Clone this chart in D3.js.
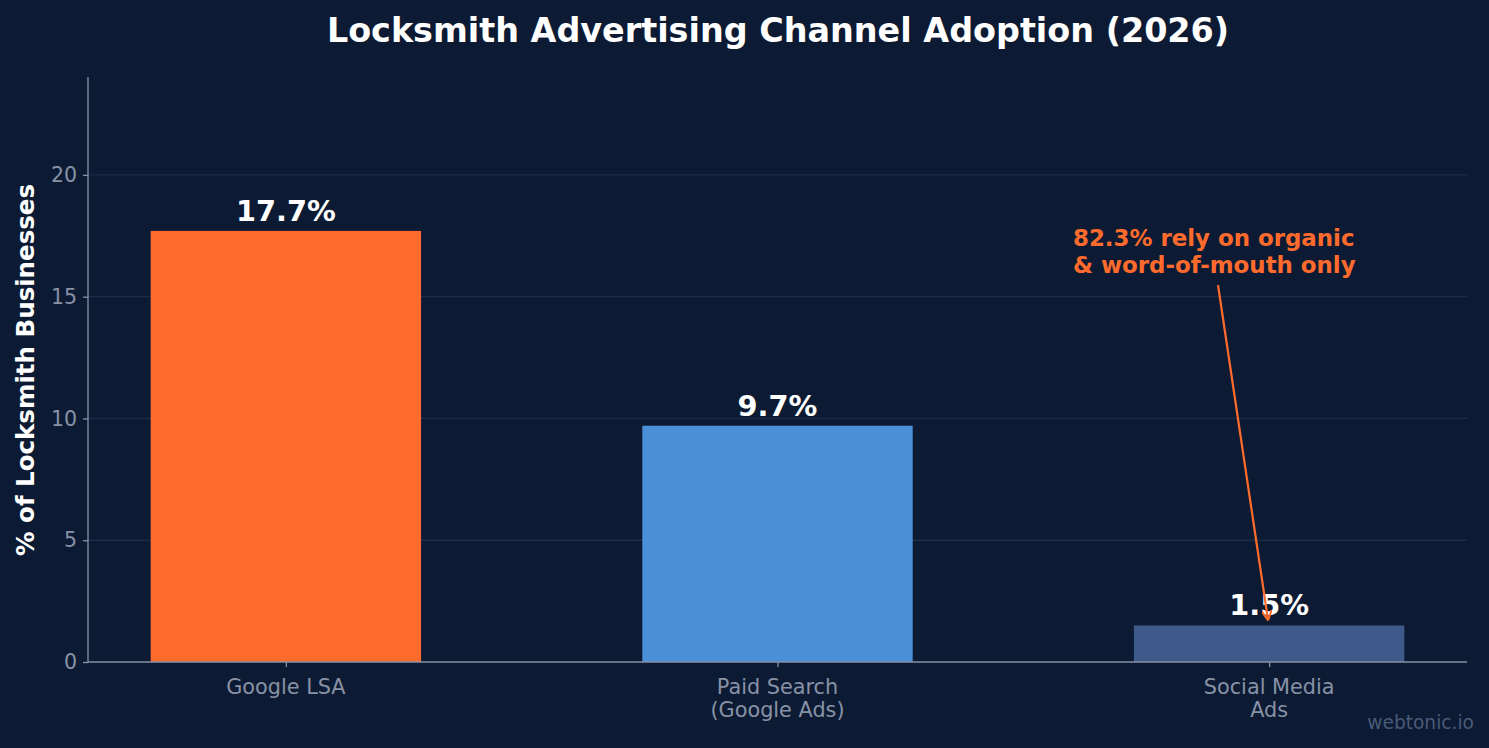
<!DOCTYPE html>
<html><head><meta charset="utf-8">
<script src="https://cdn.jsdelivr.net/npm/d3@7"></script>
<style>html,body{margin:0;padding:0;background:#0c1b33;}svg{display:block;}text{font-family:"DejaVu Sans",sans-serif;}</style>
</head><body>
<svg id="c" width="1489" height="748"></svg>
<script>
const categories = [["Google LSA"], ["Paid Search", "(Google Ads)"], ["Social Media", "Ads"]];
const values = [17.7, 9.7, 1.5];
const barColors = ["#ff6b2c", "#4a90d9", "#3d5a8a"];
const valueLabels = ["17.7%", "9.7%", "1.5%"];
const yTicks = [0, 5, 10, 15, 20];
const annotationLines = ["82.3% rely on organic", "& word-of-mouth only"];

const svg = d3.select("#c");
const W = 1489, H = 748;
const m = {l: 88, r: 1467, t: 77, b: 662};
svg.append("rect").attr("width", W).attr("height", H).attr("fill", "#0c1b33");

const x = d3.scaleLinear().domain([-0.4025, 2.4025]).range([m.l, m.r]);
const y = d3.scaleLinear().domain([0, 24.02]).range([m.b, m.t]);
const bw = 0.55;

// grid
svg.append("g").selectAll("line").data(yTicks.filter(d => d > 0)).join("line")
  .attr("x1", m.l).attr("x2", m.r).attr("y1", d => y(d)).attr("y2", d => y(d))
  .attr("stroke", "#1d2c47").attr("stroke-width", 1.3);

// bars
svg.append("g").selectAll("rect").data(values).join("rect")
  .attr("x", (d, i) => x(i - bw / 2)).attr("width", (d, i) => x(i + bw / 2) - x(i - bw / 2))
  .attr("y", d => y(d)).attr("height", d => y(0) - y(d))
  .attr("fill", (d, i) => barColors[i]);

// value labels
svg.append("g").selectAll("text").data(values).join("text")
  .attr("x", (d, i) => x(i)).attr("y", d => y(d) - 10)
  .attr("text-anchor", "middle").attr("fill", "#ffffff")
  .attr("font-size", 28.8).attr("font-weight", "bold")
  .text((d, i) => valueLabels[i]);

// y axis
const yAxis = d3.axisLeft(y).tickValues(yTicks).tickSize(5).tickPadding(6);
const ya = svg.append("g").attr("transform", `translate(${m.l},0)`).call(yAxis);
ya.select(".domain").attr("stroke", "#8892a6").attr("stroke-width", 1.3).attr("d", `M0,${m.b}V${m.t}`);
ya.selectAll(".tick line").attr("stroke", "#8892a6").attr("stroke-width", 1.3);
ya.selectAll(".tick text").attr("fill", "#8892a6").attr("font-size", 20.5).attr("font-family", "DejaVu Sans");

// x axis
const xAxis = d3.axisBottom(x).tickValues([0, 1, 2]).tickSize(5).tickFormat("");
const xa = svg.append("g").attr("transform", `translate(0,${m.b})`).call(xAxis);
xa.select(".domain").attr("stroke", "#8892a6").attr("stroke-width", 1.3).attr("d", `M${m.l},0H${m.r}`);
xa.selectAll(".tick line").attr("stroke", "#8892a6").attr("stroke-width", 1.3);
categories.forEach((lines, i) => {
  const t = svg.append("text").attr("x", x(i)).attr("y", 694)
    .attr("text-anchor", "middle").attr("fill", "#8892a6").attr("font-size", 20.8);
  lines.forEach((s, j) => t.append("tspan").attr("x", x(i)).attr("dy", j === 0 ? 0 : 23).text(s));
});

// y label
svg.append("text").attr("transform", `translate(34,370) rotate(-90)`)
  .attr("text-anchor", "middle").attr("fill", "#ffffff").attr("font-size", 24.5).attr("font-weight", "bold")
  .text("% of Locksmith Businesses");

// title
svg.append("text").attr("x", 778).attr("y", 42).attr("text-anchor", "middle")
  .attr("fill", "#ffffff").attr("font-size", 33.4).attr("font-weight", "bold")
  .text("Locksmith Advertising Channel Adoption (2026)");

// annotation
const ann = svg.append("text").attr("x", 1073).attr("y", 246).attr("fill", "#ff6b2c")
  .attr("font-size", 22.9).attr("font-weight", "bold");
annotationLines.forEach((s, j) => ann.append("tspan").attr("x", 1073).attr("dy", j === 0 ? 0 : 27).text(s));
svg.append("defs").append("marker").attr("id", "ah").attr("viewBox", "0 0 10 10")
  .attr("refX", 10).attr("refY", 5).attr("markerWidth", 10).attr("markerHeight", 10)
  .attr("markerUnits", "userSpaceOnUse").attr("orient", "auto")
  .append("path").attr("d", "M0,0L10,5L0,10").attr("fill", "none").attr("stroke", "#ff6b2c").attr("stroke-width", 2);
svg.append("line").attr("x1", 1218).attr("y1", 285).attr("x2", x(2) - 1).attr("y2", y(values[2]) - 5)
  .attr("stroke", "#ff6b2c").attr("stroke-width", 2.2).attr("marker-end", "url(#ah)");

// watermark
svg.append("text").attr("x", 1474).attr("y", 729).attr("text-anchor", "end")
  .attr("fill", "#4a5a78").attr("font-size", 18.6).text("webtonic.io");
</script>
</body></html>
